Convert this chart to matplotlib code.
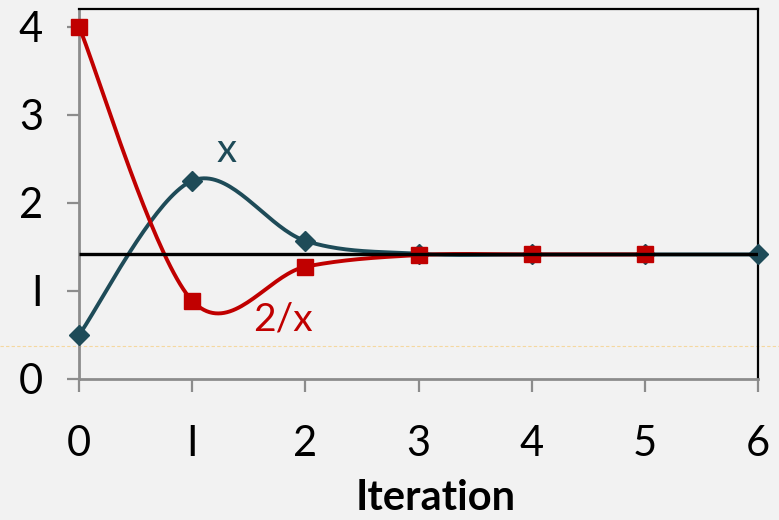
import matplotlib
matplotlib.use("Agg")
import matplotlib.pyplot as plt
import numpy as np

plt.rcParams['font.family'] = ['Lato', 'DejaVu Sans']

iters_x = [0, 1, 2, 3, 4, 5, 6]
vals_x = [0.5, 2.25, 1.569, 1.422, 1.414, 1.414, 1.414]
iters_inv = [0, 1, 2, 3, 4, 5]
vals_inv = [4.0, 0.889, 1.274, 1.407, 1.414, 1.414]
root_level = 1.414
faint_level = 0.375
xticks = [0, 1, 2, 3, 4, 5, 6]
yticks = [0, 1, 2, 3, 4]
ytick_labels = ["0", "I", "2", "3", "4"]
xtick_labels = ["0", "I", "2", "3", "4", "5", "6"]

TEAL = "#1e4b58"
RED = "#c00000"


def smooth(xs, ys, n=40):
    # excel-ish smoothed line: catmull-rom through bezier control points
    p = np.column_stack([xs, ys]).astype(float)
    out = []
    for i in range(len(p) - 1):
        p0 = p[i - 1] if i > 0 else p[i]
        p3 = p[i + 2] if i + 2 < len(p) else p[i + 1]
        c1 = p[i] + (p[i + 1] - p0) / 6
        c2 = p[i + 1] - (p3 - p[i]) / 6
        t = np.linspace(0, 1, n)[:, None]
        seg = ((1 - t) ** 3) * p[i] + 3 * ((1 - t) ** 2) * t * c1 + 3 * (1 - t) * t ** 2 * c2 + t ** 3 * p[i + 1]
        out.append(seg if i == 0 else seg[1:])
    out = np.vstack(out)
    return out[:, 0], out[:, 1]


fig = plt.figure(figsize=(7.79, 5.20), dpi=100, facecolor="#f2f2f2")
ax = fig.add_axes([79 / 779, 1 - 379 / 520, (758 - 79) / 779, (379 - 9) / 520])
ax.set_facecolor("#f2f2f2")

sx, sy = smooth(iters_x, vals_x)
ax.plot(sx, sy, color=TEAL, lw=2.8, zorder=3)
ax.plot(iters_x, vals_x, ls="none", marker="D", ms=10, color=TEAL, zorder=4, clip_on=False)
sx, sy = smooth(iters_inv, vals_inv)
ax.plot(sx, sy, color=RED, lw=2.8, zorder=5)
ax.plot(iters_inv, vals_inv, ls="none", marker="s", ms=11, color=RED, zorder=6, clip_on=False)

ax.plot([xticks[0], xticks[-1]], [root_level, root_level], color="black", lw=2.4, zorder=7, solid_capstyle="butt")
ax.axhline(faint_level, xmin=-79 / 679, xmax=700 / 679, color="#f5d8a0", lw=0.8, ls=(0, (3, 2)), clip_on=False, zorder=1)

ax.text(1.3, 2.59, "x", color=TEAL, fontsize=29, ha="center", va="center")
ax.text(1.8, 0.68, "2/x", color=RED, fontsize=28, ha="center", va="center")

ax.set_xlim(0, 6)
ax.set_ylim(0, 4.2)
ax.set_xticks(xticks)
ax.set_xticklabels(xtick_labels)
ax.set_yticks(yticks)
ax.set_yticklabels(ytick_labels)
ax.tick_params(axis="both", direction="out", length=9, width=1.6, color="#8c8c8c", labelsize=30)
ax.tick_params(axis="x", pad=24)
ax.tick_params(axis="y", pad=17)

for side in ("left", "bottom"):
    ax.spines[side].set_color("#8c8c8c")
    ax.spines[side].set_linewidth(2)
for side in ("top", "right"):
    ax.spines[side].set_color("black")
    ax.spines[side].set_linewidth(1.6)

fig.text(436 / 779, 3 / 520, "Iteration", fontsize=30, fontweight="bold", ha="center", va="bottom")

fig.savefig("out.png", dpi=100, facecolor=fig.get_facecolor())
